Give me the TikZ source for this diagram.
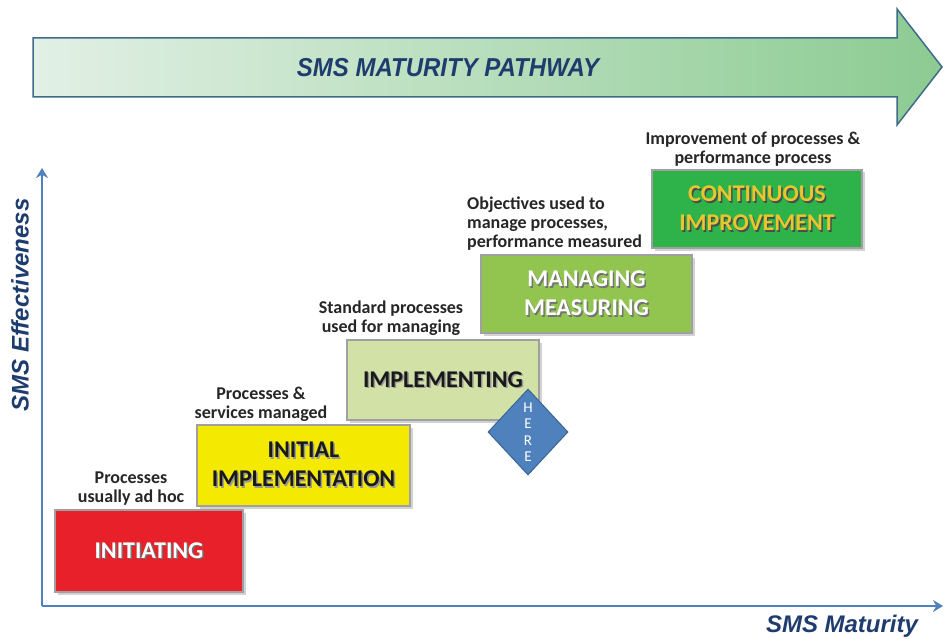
\documentclass[tikz,border=0pt]{standalone}
\usepackage{fontspec}
\setmainfont{Carlito}
\newfontfamily\arialf{Liberation Sans}
\usetikzlibrary{shapes.geometric,shadows,arrows.meta}
\definecolor{redbox}{HTML}{E8202A}
\definecolor{yellowbox}{HTML}{F4E900}
\definecolor{palegreen}{HTML}{D2E1A6}
\definecolor{midgreen}{HTML}{92C54F}
\definecolor{darkgreen}{HTML}{2DB34A}
\definecolor{goldtext}{HTML}{E8C62E}
\definecolor{titleblue}{HTML}{1F3C6E}
\definecolor{axisblue}{HTML}{4F81BD}
\definecolor{diamondborder}{HTML}{3A6596}
\definecolor{boxborder}{HTML}{A0A0A0}
\definecolor{arrowL}{HTML}{E2F0E5}
\definecolor{arrowR}{HTML}{8CCB92}
\definecolor{arrowborder}{HTML}{3F6B8A}
\newcommand{\shd}[2][black!55]{\makebox[0pt][l]{\kern1.5pt\raisebox{-1.5pt}{\textcolor{#1}{#2}}}#2}
\begin{document}
\begin{tikzpicture}[x=1pt,y=-1pt,
  stage/.style={draw=boxborder, line width=2.5pt,
    drop shadow={shadow xshift=2.5pt, shadow yshift=-2.5pt, opacity=0.35},
    font=\bfseries\fontsize{24}{29}\selectfont, align=center, inner sep=0pt},
  note/.style={font=\bfseries\fontsize{18}{19}\selectfont, inner sep=0pt, text=black!85},
  axis/.style={draw=axisblue, line width=2.5pt, -{Stealth[length=10pt,width=12pt]}},
  axlabel/.style={font=\arialf\bfseries\itshape\fontsize{24}{26}\selectfont, text=titleblue, inner sep=0pt}]
\useasboundingbox (0,0) rectangle (944,639);
\fill[white] (0,0) rectangle (944,639);

% big pathway arrow
\shadedraw[left color=arrowL, right color=arrowR, draw=arrowborder, line width=1.5pt]
  (33,38) -- (897,38) -- (897,9) -- (942,67) -- (897,125) -- (897,97) -- (33,97) -- cycle;
\node[axlabel, yscale=1.08] (title) at (448,68) {SMS MATURITY PATHWAY};

% axes
\coordinate (origin) at (42,606);
\coordinate (ytop) at (42,168);
\coordinate (xend) at (943,606);
\draw[axis] (origin) -- (ytop);
\draw[axis] (origin) -- (xend);
\node[axlabel, rotate=90] (ylab) at (20,305) {SMS Effectiveness};
\node[axlabel] (xlab) at (842,626) {SMS Maturity};

% stages
\node[stage, fill=redbox, text=white, minimum width=188pt, minimum height=82pt] (b1) at (149,551) {\shd{INITIATING}};
\node[stage, fill=yellowbox, text=black!90, minimum width=213pt, minimum height=81pt] (b2) at (303.5,465.5) {\shd[black!40]{INITIAL}\\\shd[black!40]{IMPLEMENTATION}};
\node[stage, fill=palegreen, text=black!90, minimum width=192pt, minimum height=80pt] (b3) at (443,380) {\shd[black!40]{IMPLEMENTING}};
\node[stage, fill=midgreen, text=white, minimum width=211pt, minimum height=78pt] (b4) at (586.5,294) {\shd{MANAGING}\\\shd{MEASURING}};
\node[stage, fill=darkgreen, text=goldtext, minimum width=210pt, minimum height=78pt] (b5) at (757,209) {\shd[black!70]{CONTINUOUS}\\\shd[black!70]{IMPROVEMENT}};

% notes
\node[note, align=center] (n1) at (131,489) {Processes\\usually ad hoc};
\node[note, align=center] (n2) at (261,404) {Processes \&\\services managed};
\node[note, align=center] (n3) at (391,318) {Standard processes\\used for managing};
\node[note, align=left, anchor=west] (n4) at (467,223.5) {Objectives used to\\manage processes,\\performance measured};
\node[note, align=center] (n5) at (753,149) {Improvement of processes \&\\performance process};

% HERE marker
\node[diamond, draw=diamondborder, line width=1pt, fill=axisblue, minimum width=80pt, minimum height=86pt, inner sep=0pt,
  text=white, font=\fontsize{15}{16.5}\selectfont, align=center] (here) at (528,432) {H\\E\\R\\E};
\end{tikzpicture}
\end{document}
